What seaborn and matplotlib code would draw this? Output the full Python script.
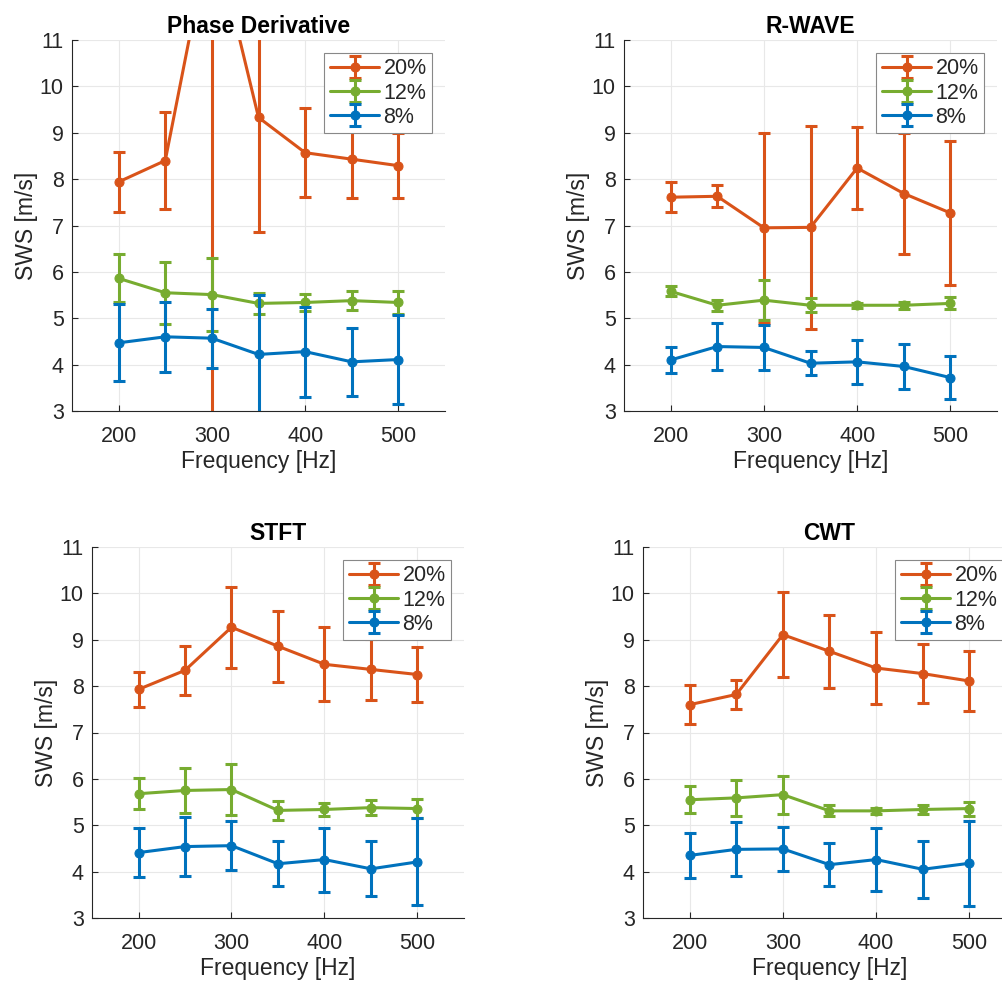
import numpy as np
import pandas as pd
import seaborn as sns
import matplotlib
matplotlib.use("Agg")
import matplotlib.pyplot as plt
from matplotlib.container import ErrorbarContainer

# ---------------- data ----------------
freqs = [200, 250, 300, 350, 400, 450, 500]
levels = ["20%", "12%", "8%"]
titles = ["Phase Derivative", "R-WAVE", "STFT", "CWT"]

# Phase Derivative
pd_20 = [7.94, 8.40, 13.5, 9.33, 8.57, 8.43, 8.29]
pd_20_err = [0.65, 1.04, 11.0, 2.48, 0.96, 0.84, 0.70]
pd_12 = [5.86, 5.55, 5.51, 5.32, 5.34, 5.38, 5.34]
pd_12_err = [0.52, 0.67, 0.78, 0.22, 0.18, 0.21, 0.24]
pd_8 = [4.47, 4.60, 4.57, 4.22, 4.28, 4.06, 4.11]
pd_8_err = [0.83, 0.76, 0.64, 1.28, 0.97, 0.74, 0.96]

# R-WAVE
rw_20 = [7.61, 7.63, 6.95, 6.96, 8.24, 7.69, 7.27]
rw_20_err = [0.32, 0.24, 2.05, 2.19, 0.89, 1.31, 1.56]
rw_12 = [5.58, 5.28, 5.39, 5.28, 5.28, 5.28, 5.32]
rw_12_err = [0.11, 0.12, 0.43, 0.15, 0.05, 0.08, 0.13]
rw_8 = [4.10, 4.39, 4.37, 4.03, 4.06, 3.96, 3.72]
rw_8_err = [0.28, 0.51, 0.49, 0.26, 0.48, 0.49, 0.47]

# STFT
st_20 = [7.93, 8.34, 9.27, 8.86, 8.47, 8.36, 8.25]
st_20_err = [0.37, 0.53, 0.87, 0.77, 0.80, 0.65, 0.59]
st_12 = [5.68, 5.75, 5.77, 5.32, 5.34, 5.38, 5.36]
st_12_err = [0.33, 0.48, 0.55, 0.20, 0.15, 0.16, 0.21]
st_8 = [4.41, 4.54, 4.56, 4.17, 4.26, 4.06, 4.21]
st_8_err = [0.53, 0.63, 0.53, 0.49, 0.69, 0.59, 0.94]

# CWT
cw_20 = [7.60, 7.82, 9.11, 8.75, 8.39, 8.27, 8.11]
cw_20_err = [0.42, 0.31, 0.92, 0.78, 0.78, 0.64, 0.65]
cw_12 = [5.55, 5.59, 5.66, 5.31, 5.31, 5.34, 5.36]
cw_12_err = [0.29, 0.38, 0.41, 0.12, 0.07, 0.10, 0.15]
cw_8 = [4.35, 4.48, 4.49, 4.15, 4.26, 4.05, 4.18]
cw_8_err = [0.48, 0.58, 0.47, 0.46, 0.68, 0.61, 0.92]

panels = [
    [(pd_20, pd_20_err), (pd_12, pd_12_err), (pd_8, pd_8_err)],
    [(rw_20, rw_20_err), (rw_12, rw_12_err), (rw_8, rw_8_err)],
    [(st_20, st_20_err), (st_12, st_12_err), (st_8, st_8_err)],
    [(cw_20, cw_20_err), (cw_12, cw_12_err), (cw_8, cw_8_err)],
]

colors = ["#D95319", "#77AC30", "#0072BD"]
yticks = list(range(3, 12))
xticks = [200, 300, 400, 500]

# ---------------- style ----------------
sns.set_theme(style="whitegrid")
plt.rcParams["font.family"] = ["Liberation Sans", "DejaVu Sans"]

fig = plt.figure(figsize=(10.03, 9.83), dpi=100)
W, H = 1003.0, 983.0
# axes rectangles in pixels: (left, top, right, bottom)
rects = [(72, 40, 445, 411), (624, 40, 997, 411),
         (92, 547, 464, 918), (643, 547, 1016, 918)]

for i, (title, series, r) in enumerate(zip(titles, panels, rects)):
    l, t, rr, b = r
    ax = fig.add_axes([l / W, 1 - b / H, (rr - l) / W, (b - t) / H])
    ax.set_facecolor("white")
    handles = []
    for (vals, errs), lab, c in zip(series, levels, colors):
        df = pd.DataFrame({"Frequency": freqs, "SWS": vals})
        sns.lineplot(data=df, x="Frequency", y="SWS", ax=ax, color=c,
                     marker="o", markersize=6.5, markeredgecolor=c,
                     linewidth=2.2, legend=False, errorbar=None)
        ln = ax.lines[-1]
        eb = ax.errorbar(freqs, vals, yerr=errs, fmt="none", ecolor=c,
                         elinewidth=2.2, capsize=4, capthick=2.2)
        handles.append(ErrorbarContainer((ln, eb[1], eb[2]),
                                         has_xerr=False, has_yerr=True,
                                         label=lab))
    ax.set_xlim(150, 550)
    ax.set_ylim(3, 11)
    ax.set_xticks(xticks)
    ax.set_yticks(yticks)
    ax.grid(True, color="#e8e8e8", linewidth=0.8)
    for s in ["top", "right"]:
        ax.spines[s].set_visible(False)
    for s in ["left", "bottom"]:
        ax.spines[s].set_color("#262626")
        ax.spines[s].set_linewidth(0.8)
    ax.tick_params(axis="both", direction="in", length=4, width=0.8,
                   colors="#262626", labelsize=15.5, pad=6,
                   left=True, bottom=True)
    ax.tick_params(axis="x", pad=11)
    ax.set_xlabel("Frequency [Hz]", fontsize=16.5, color="#262626", labelpad=2)
    ax.set_ylabel("SWS [m/s]", fontsize=16.5, color="#262626", labelpad=1)
    ax.set_title(title, fontsize=16.5, fontweight="bold", color="black", pad=5)
    leg = ax.legend(handles=handles, loc="upper right", fontsize=15.5,
                    handlelength=2.3, handletextpad=0.2, borderaxespad=0.6,
                    labelspacing=0.15, borderpad=0.25,
                    frameon=True, fancybox=False, framealpha=1)
    leg.get_frame().set_edgecolor("#888888")
    leg.get_frame().set_linewidth(0.8)

fig.savefig("out.png", dpi=100, facecolor="white")
